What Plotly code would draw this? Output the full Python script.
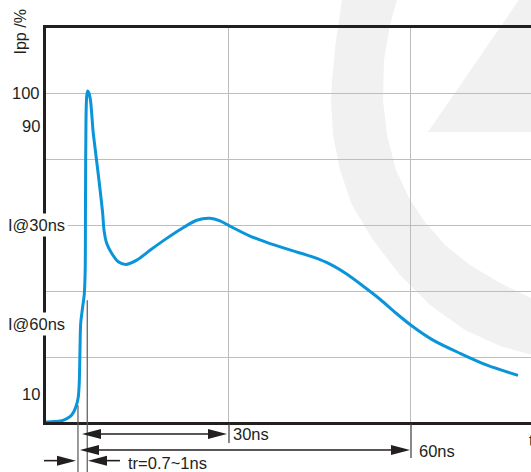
import plotly.graph_objects as go

# ---------------- data ----------------
time_ns = [-0.16, 1.32, 2.64, 3.79, 4.45, 4.95, 5.16, 5.32, 5.44, 5.56, 5.88, 6.15,
           6.30, 6.35, 6.43, 6.54, 6.71, 6.92, 7.17, 7.37, 7.58, 7.91, 8.57, 9.18,
           9.40, 9.84, 10.66, 11.75, 13.02, 14.79, 16.98, 19.73, 22.5, 24.68, 26.87,
           28.52, 30.16, 33.46, 36.21, 40.05, 43.90, 46.65, 49.40, 52.14, 54.94,
           57.5, 60.00, 63.63, 68.08, 72.53, 77.64]
ipp_pct = [0.4, 0.55, 0.9, 2.0, 3.6, 6.1, 8.0, 12.1, 22.1, 30.3, 35.2, 39.1,
           46.4, 67.6, 91.8, 98.8, 100.6, 100.0, 97.9, 93.9, 88.8, 83.6, 73.6, 63.6,
           58.5, 54.5, 51.5, 48.9, 48.1, 49.4, 52.4, 56.0, 59.3, 61.5, 62.1,
           61.3, 59.7, 56.7, 54.8, 52.5, 50.3, 48.2, 45.2, 41.5, 37.5,
           33.4, 29.7, 25.2, 21.2, 17.6, 14.5]

y_label_text = ["100", "90", "I@30ns", "I@60ns", "10"]
y_label_val = [100, 90, 60, 30, 9]
grid_y = [20, 40, 60, 80, 100]
grid_t = [30, 60]

t_start_10 = 5.11      # rise start marker
t_start_90 = 6.64      # rise end marker
marker_top = [5.5, 37.3]
arrow_30_left = 5.77
arrow_60_left = 5.44
arrow_30_right = 29.67
arrow_60_right = 59.84

X0, X1 = -0.16, 79.78
Y0, Y1 = 0.4, 119.7

INK = "#231f20"
BLUE = "#0A95DA"
GRID = "#BDBDBD"
FONT = "Liberation Sans, Arial, sans-serif"
FS = 16.5

W, H = 531, 472
ML, MR, MT, MB = 46, 0, 28, 50
PW, PH = W - ML - MR, H - MT - MB


def xp(t):
    return (t - X0) / (X1 - X0)


def yp(v):
    return (v - Y0) / (Y1 - Y0)


def pxp(px):
    return (px - ML) / PW


def pyp(py):
    return (H - MB - py) / PH


fig = go.Figure()
fig.add_trace(go.Scatter(
    x=time_ns, y=ipp_pct, mode="lines",
    line=dict(color=BLUE, width=3, shape="spline", smoothing=0.8),
    hoverinfo="skip", showlegend=False))

shapes = []

# watermark (light grey logo in background)
wm_arc = [(346, -5), (342, 0), (336, 40), (332, 80), (331, 100), (333, 135), (340, 170),
          (352, 205), (373, 240), (400, 275), (430, 305), (465, 330), (500, 346),
          (535, 356), (535, 300), (500, 283), (470, 265), (445, 245), (425, 222),
          (410, 200), (396, 170), (387, 135), (383, 100), (384, 60), (390, 25),
          (397, 0), (400, -5)]
wm_tri = [(428, 132), (521, -3), (535, -3), (535, 132)]
for poly in (wm_arc, wm_tri):
    path = "M " + " L ".join(f"{pxp(a):.5f},{pyp(b):.5f}" for a, b in poly) + " Z"
    shapes.append(dict(type="path", path=path, xref="paper", yref="paper",
                       fillcolor="#F1F1F1", line=dict(width=0), layer="below"))

# vertical rise markers
for t, top in zip([t_start_10, t_start_90], marker_top):
    shapes.append(dict(type="line", xref="paper", yref="paper",
                       x0=xp(t), x1=xp(t), y0=yp(top), y1=yp(-16),
                       line=dict(color="#595757", width=1.2)))

# tick extensions below axis at 30ns / 60ns
for t, bot in zip(grid_t, [-5.96, -10.5]):
    shapes.append(dict(type="line", xref="paper", yref="paper",
                       x0=xp(t), x1=xp(t), y0=yp(0), y1=yp(bot),
                       line=dict(color="#3e3a39", width=1.2)))

HEAD_T = 19 / (PW / (X1 - X0))
HEAD_V = 5 / (PH / (Y1 - Y0))


def head(tip, v, direction):
    base = tip - direction * HEAD_T
    pts = [(tip, v), (base, v + HEAD_V), (base, v - HEAD_V)]
    path = "M " + " L ".join(f"{xp(a):.5f},{yp(b):.5f}" for a, b in pts) + " Z"
    return dict(type="path", path=path, xref="paper", yref="paper",
                fillcolor=INK, line=dict(width=0))


def seg(t0, t1, v):
    return dict(type="line", xref="paper", yref="paper",
                x0=xp(t0), x1=xp(t1), y0=yp(v), y1=yp(v),
                line=dict(color=INK, width=1.6))


# 30 ns and 60 ns double arrows
for left, right, v in [(arrow_30_left, arrow_30_right, -3.24),
                       (arrow_60_left, arrow_60_right, -8.08)]:
    shapes.append(seg(left + HEAD_T * 0.9, right - HEAD_T * 0.9, v))
    shapes.append(head(left, v, -1))
    shapes.append(head(right, v, 1))

# tr arrows
v_tr = -11.3
shapes.append(seg(-0.49, 4.78 - HEAD_T * 0.9, v_tr))
shapes.append(head(4.78, v_tr, 1))
shapes.append(seg(6.76 + HEAD_T * 0.9, 12.03, v_tr))
shapes.append(head(6.76, v_tr, -1))

annotations = []
for txt, val in zip(y_label_text, y_label_val):
    if txt.startswith("I@"):
        annotations.append(dict(x=0, xref="paper", y=yp(val), yref="paper",
                                text=txt, showarrow=False, xanchor="left",
                                yanchor="middle", xshift=-41,
                                bgcolor="white", borderpad=2,
                                font=dict(family=FONT, size=FS, color=INK)))
    else:
        annotations.append(dict(x=0, xref="paper", y=yp(val), yref="paper",
                                text=txt, showarrow=False, xanchor="right",
                                yanchor="middle", xshift=-4,
                                font=dict(family=FONT, size=FS, color=INK)))

for txt, t, v in [("30ns", 30.33, -3.3), ("60ns", 60.99, -8.4),
                  ("tr=0.7~1ns", 13.02, -12.0), ("t", 79.12, -5.06)]:
    annotations.append(dict(x=xp(t), xref="paper", y=yp(v), yref="paper",
                            text=txt, showarrow=False, xanchor="left",
                            yanchor="middle",
                            font=dict(family=FONT, size=FS, color=INK)))

annotations.append(dict(x=0, xref="paper", y=1, yref="paper", text="Ipp /%",
                        showarrow=False, textangle=-90, xanchor="center",
                        yanchor="middle", xshift=-26, yshift=-4.5,
                        font=dict(family=FONT, size=FS - 0.5, color=INK)))

fig.update_layout(
    width=W, height=H, autosize=False,
    margin=dict(l=ML, r=MR, t=MT, b=MB, pad=0),
    paper_bgcolor="white", plot_bgcolor="rgba(0,0,0,0)",
    shapes=shapes, annotations=annotations, showlegend=False,
    xaxis=dict(range=[X0, X1], tickvals=grid_t, showticklabels=False,
               showgrid=True, gridcolor=GRID, gridwidth=1.3, zeroline=False,
               showline=True, linecolor=INK, linewidth=3, mirror=True,
               ticks="", fixedrange=True),
    yaxis=dict(range=[Y0, Y1], tickvals=grid_y, showticklabels=False,
               showgrid=True, gridcolor=GRID, gridwidth=1.3, zeroline=False,
               showline=True, linecolor=INK, linewidth=3, mirror=False,
               ticks="", fixedrange=True),
)

fig.write_html("out.html", config={"displayModeBar": False},
               post_script="document.body.style.margin='0';document.body.style.overflow='hidden';")
